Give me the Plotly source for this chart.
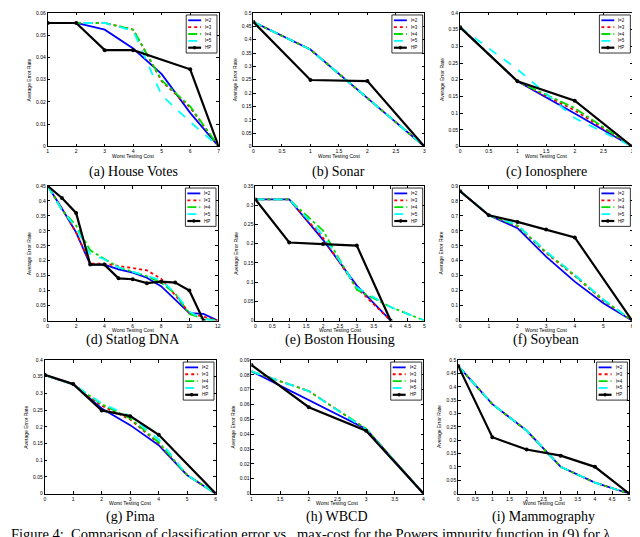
import plotly.graph_objects as go

# ---------------- data ----------------
series_names = ["l=2", "l=3", "l=4", "l=5", "HP"]
captions = ["(a) House Votes", "(b) Sonar", "(c) Ionosphere",
            "(d) Statlog DNA", "(e) Boston Housing", "(f) Soybean",
            "(g) Pima", "(h) WBCD", "(i) Mammography"]
figure_caption = "Figure 4:  Comparison of classification error vs.  max-cost for the Powers impurity function in (9) for λ"
x_title = "Worst Testing Cost"
y_title = "Average Error Rate"

# (a) House Votes
hv_x = [1, 2, 3, 4, 5, 6, 7]
hv_l2 = [0.0555, 0.0555, 0.0525, 0.0440, 0.0325, 0.0151, 0]
hv_l3 = [0.0555, 0.0555, 0.0555, 0.0525, 0.0293, 0.0175, 0]
hv_l4 = [0.0555, 0.0555, 0.0555, 0.0525, 0.0297, 0.0180, 0]
hv_l5 = [0.0555, 0.0555, 0.0555, 0.0520, 0.0230, 0.0110, 0]
hv_hp_x = [1, 2, 3, 4, 6, 7]
hv_hp = [0.0555, 0.0555, 0.0433, 0.0433, 0.0347, 0]

# (b) Sonar
sonar_x = [0, 1, 2, 3]
sonar_l2 = [0.466, 0.363, 0.181, 0]
sonar_l3 = [0.466, 0.363, 0.181, 0]
sonar_l4 = [0.466, 0.363, 0.181, 0]
sonar_l5 = [0.466, 0.363, 0.181, 0]
sonar_hp = [0.466, 0.249, 0.245, 0]

# (c) Ionosphere
iono_x = [0, 1, 2, 3]
iono_l2 = [0.357, 0.195, 0.099, 0]
iono_l3 = [0.357, 0.195, 0.108, 0]
iono_l4 = [0.357, 0.195, 0.115, 0]
iono_l5 = [0.357, 0.231, 0.085, 0]
iono_hp = [0.357, 0.1955, 0.137, 0]

# (d) Statlog DNA
dna_x = [0, 1, 2, 3, 4, 5, 6, 7, 8, 9, 10, 11, 12]
dna_l2 = [0.45, 0.375, 0.295, 0.187, 0.187, 0.171, 0.160, 0.143, 0.115, 0.069, 0.025, 0.022, 0]
dna_l3 = [0.45, 0.375, 0.295, 0.190, 0.190, 0.182, 0.175, 0.168, 0.140, 0.085, 0.025, 0.012, 0]
dna_l4 = [0.45, 0.370, 0.318, 0.235, 0.206, 0.178, 0.163, 0.148, 0.127, 0.090, 0.022, 0.006, 0]
dna_l5 = [0.45, 0.370, 0.310, 0.222, 0.205, 0.178, 0.163, 0.150, 0.135, 0.092, 0.030, 0.003, 0]
dna_hp_x = [0, 1, 2, 3, 4, 5, 6, 7, 8, 9, 10, 11]
dna_hp = [0.45, 0.41, 0.36, 0.187, 0.187, 0.141, 0.138, 0.125, 0.130, 0.127, 0.100, 0]

# (e) Boston Housing
boston_x4 = [0, 1, 2, 3, 4]
boston_x5 = [0, 1, 2, 3, 4, 5]
boston_l2 = [0.315, 0.315, 0.210, 0.091, 0]
boston_l3 = [0.315, 0.315, 0.215, 0.085, 0]
boston_l4 = [0.315, 0.315, 0.234, 0.080, 0.035, 0]
boston_l5 = [0.315, 0.315, 0.222, 0.086, 0.035, 0]
boston_hp = [0.315, 0.203, 0.199, 0.195, 0]

# (f) Soybean
soy_x = [0, 1, 2, 3, 4, 5, 6]
soy_l2 = [0.865, 0.705, 0.618, 0.428, 0.260, 0.115, 0]
soy_l3 = [0.865, 0.705, 0.632, 0.452, 0.298, 0.132, 0]
soy_l4 = [0.865, 0.705, 0.635, 0.458, 0.303, 0.138, 0]
soy_l5 = [0.865, 0.705, 0.640, 0.462, 0.306, 0.140, 0]
soy_hp_x = [0, 1, 2, 3, 4, 6]
soy_hp = [0.865, 0.704, 0.660, 0.609, 0.556, 0]

# (g) Pima
pima_x = [0, 1, 2, 3, 4, 5, 6]
pima_l2 = [0.355, 0.327, 0.255, 0.205, 0.145, 0.055, 0]
pima_l3 = [0.355, 0.327, 0.263, 0.222, 0.150, 0.055, 0]
pima_l4 = [0.355, 0.327, 0.268, 0.225, 0.153, 0.055, 0]
pima_l5 = [0.355, 0.327, 0.270, 0.232, 0.162, 0.055, 0]
pima_hp_x = [0, 1, 2, 3, 4, 6]
pima_hp = [0.356, 0.328, 0.249, 0.232, 0.176, 0]

# (h) WBCD
wbcd_x = [1, 2, 3, 4]
wbcd_l2 = [0.0824, 0.0629, 0.0435, 0]
wbcd_l3 = [0.0824, 0.0691, 0.0435, 0]
wbcd_l4 = [0.0824, 0.0691, 0.0437, 0]
wbcd_l5 = [0.0824, 0.0690, 0.0433, 0]
wbcd_hp = [0.0867, 0.0582, 0.0424, 0]

# (i) Mammography
mammo_x = [0, 1, 2, 3, 4, 5]
mammo_l2 = [0.478, 0.335, 0.236, 0.100, 0.041, 0]
mammo_l3 = [0.478, 0.335, 0.236, 0.100, 0.041, 0]
mammo_l4 = [0.478, 0.335, 0.236, 0.100, 0.041, 0]
mammo_l5 = [0.478, 0.335, 0.236, 0.100, 0.041, 0]
mammo_hp = [0.478, 0.211, 0.165, 0.142, 0.100, 0]

# axis ranges and tick steps
x_ranges = [[1, 7], [0, 3], [0, 3], [0, 12], [0, 5], [0, 6], [0, 6], [1, 4], [0, 5]]
x_dticks = [1, 0.5, 0.5, 2, 0.5, 1, 1, 0.5, 0.5]
y_ranges = [[0, 0.06], [0, 0.5], [0, 0.4], [0, 0.45], [0, 0.35], [0, 0.9], [0, 0.4], [0, 0.09], [0, 0.5]]
y_dticks = [0.01, 0.05, 0.05, 0.05, 0.05, 0.1, 0.05, 0.01, 0.05]

panels = [
    [(hv_x, hv_l2), (hv_x, hv_l3), (hv_x, hv_l4), (hv_x, hv_l5), (hv_hp_x, hv_hp)],
    [(sonar_x, sonar_l2), (sonar_x, sonar_l3), (sonar_x, sonar_l4), (sonar_x, sonar_l5), (sonar_x, sonar_hp)],
    [(iono_x, iono_l2), (iono_x, iono_l3), (iono_x, iono_l4), (iono_x, iono_l5), (iono_x, iono_hp)],
    [(dna_x, dna_l2), (dna_x, dna_l3), (dna_x, dna_l4), (dna_x, dna_l5), (dna_hp_x, dna_hp)],
    [(boston_x4, boston_l2), (boston_x4, boston_l3), (boston_x5, boston_l4), (boston_x5, boston_l5), (boston_x4, boston_hp)],
    [(soy_x, soy_l2), (soy_x, soy_l3), (soy_x, soy_l4), (soy_x, soy_l5), (soy_hp_x, soy_hp)],
    [(pima_x, pima_l2), (pima_x, pima_l3), (pima_x, pima_l4), (pima_x, pima_l5), (pima_hp_x, pima_hp)],
    [(wbcd_x, wbcd_l2), (wbcd_x, wbcd_l3), (wbcd_x, wbcd_l4), (wbcd_x, wbcd_l5), (wbcd_x, wbcd_hp)],
    [(mammo_x, mammo_l2), (mammo_x, mammo_l3), (mammo_x, mammo_l4), (mammo_x, mammo_l5), (mammo_x, mammo_hp)],
]

# ---------------- styles / layout ----------------
W, H = 640, 537
colors = ["#0000FF", "#FF0000", "#00DD00", "#00FFFF", "#000000"]
dashes = ["solid", "dot", "dashdot", "dash", "solid"]
widths = [1.8, 1.8, 1.8, 1.8, 2.2]

# plot-area boxes in pixels: left, right, top, bottom
boxes = [(39, 211, 2, 137), (246, 418, 2, 137), (454, 627, 2, 137),
         (39, 210, 177, 313), (248, 418, 177, 313), (454, 627, 177, 313),
         (36, 208, 353, 488), (244, 417, 353, 488), (452, 624, 353, 488)]
caption_y = [163, 163, 163, 333, 333, 333, 512, 512, 512]

tick_font = dict(family="Liberation Sans, Arial", size=5, color="black")
serif = "Liberation Serif, Times New Roman, serif"

fig = go.Figure()
layout = dict(width=W, height=H, margin=dict(l=0, r=0, t=0, b=0),
              paper_bgcolor="white", plot_bgcolor="white", showlegend=False)
annotations = []
shapes = []

for i, series in enumerate(panels):
    n = i + 1
    sfx = "" if n == 1 else str(n)
    xa, ya = "x" + sfx, "y" + sfx
    for k, (xs, ys) in enumerate(series):
        fig.add_trace(go.Scatter(
            x=xs, y=ys, xaxis=xa, yaxis=ya, name=series_names[k],
            mode="lines+markers" if k == 4 else "lines",
            line=dict(color=colors[k], dash=dashes[k], width=widths[k]),
            marker=dict(size=4, color="black"),
            showlegend=False))
    L, R, T, B = boxes[i]
    axis_common = dict(showgrid=False, zeroline=False, showline=True, linecolor="black",
                       linewidth=1, mirror="ticks", ticks="inside", ticklen=2.5,
                       tickwidth=0.6, tickcolor="black", tickfont=tick_font, fixedrange=True)
    layout["xaxis" + sfx] = dict(axis_common, domain=[L / W, R / W], range=x_ranges[i],
                                 dtick=x_dticks[i], tick0=0, anchor=ya)
    layout["yaxis" + sfx] = dict(axis_common, domain=[1 - B / H, 1 - T / H], range=y_ranges[i],
                                 dtick=y_dticks[i], tick0=0, anchor=xa)
    xd, yd = xa + " domain", ya + " domain"
    pw, ph = R - L, B - T
    # axis titles
    annotations.append(dict(text=x_title, xref=xd, yref=yd, x=0.5, y=-10 / ph,
                            showarrow=False, font=dict(tick_font), xanchor="center", yanchor="middle"))
    annotations.append(dict(text=y_title, xref=xd, yref=yd, x=-19 / pw, y=0.5, textangle=-90,
                            showarrow=False, font=dict(tick_font), xanchor="center", yanchor="middle"))
    # caption
    annotations.append(dict(text=captions[i], xref="paper", yref="paper", x=(L + R) / 2 / W,
                            y=1 - caption_y[i] / H, showarrow=False, xanchor="center", yanchor="middle",
                            font=dict(family=serif, size=14, color="black")))
    # legend box
    bx0, bx1, by0, by1 = 0.81, 0.99, 0.70, 0.985
    shapes.append(dict(type="rect", xref=xd, yref=yd, x0=bx0, x1=bx1, y0=by0, y1=by1,
                       line=dict(color="black", width=0.8), fillcolor="white", layer="above"))
    for k in range(5):
        yy = by1 - (0.14 + 0.18 * k) * (by1 - by0)
        lx0 = bx0 + 2 / pw
        lx1 = bx0 + 15 / pw
        shapes.append(dict(type="line", xref=xd, yref=yd, x0=lx0, x1=lx1, y0=yy, y1=yy,
                           line=dict(color=colors[k], dash=dashes[k], width=widths[k]), layer="above"))
        if k == 4:
            cx = (lx0 + lx1) / 2
            shapes.append(dict(type="circle", xref=xd, yref=yd,
                               x0=cx - 1.5 / pw, x1=cx + 1.5 / pw, y0=yy - 1.5 / ph, y1=yy + 1.5 / ph,
                               fillcolor="black", line=dict(color="black", width=0.5), layer="above"))
        annotations.append(dict(text=series_names[k], xref=xd, yref=yd, x=bx0 + 17 / pw, y=yy,
                                showarrow=False, xanchor="left", yanchor="middle",
                                font=dict(family="Liberation Sans, Arial", size=4.5, color="black")))

annotations.append(dict(text=figure_caption, xref="paper", yref="paper", x=0, y=1 - 529.5 / H,
                        showarrow=False, xanchor="left", yanchor="middle",
                        font=dict(family=serif, size=14.5, color="black")))

layout["annotations"] = annotations
layout["shapes"] = shapes
fig.update_layout(**layout)
fig.write_html("out.html")
